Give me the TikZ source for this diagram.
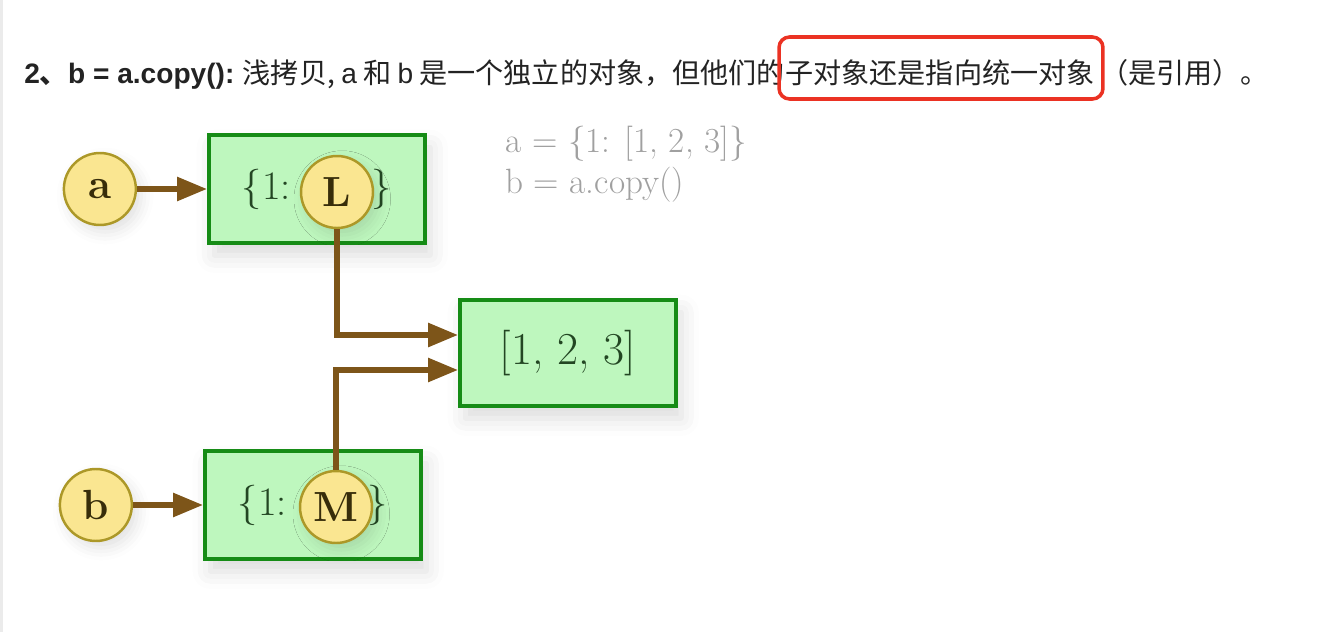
\documentclass[tikz,border=0pt]{standalone}
\usepackage{fontspec}
\newfontfamily\cjk{Noto Sans CJK SC}
\newfontfamily\hd{Liberation Sans}
\usepackage{tikz}
\usetikzlibrary{arrows.meta, positioning, shadows.blur}
\definecolor{boxfill}{RGB}{190,247,190}
\definecolor{boxline}{RGB}{22,140,22}
\definecolor{dotfill}{RGB}{250,230,145}
\definecolor{dotline}{RGB}{172,152,40}
\definecolor{ptrbrown}{RGB}{125,85,25}
\definecolor{boxtext}{RGB}{35,70,35}
\definecolor{dottext}{RGB}{55,45,10}
\definecolor{codegray}{RGB}{160,160,160}
\definecolor{markred}{RGB}{235,50,35}
\definecolor{headtext}{RGB}{35,35,35}

\begin{document}
\begin{tikzpicture}[
    x=0.02cm, y=-0.02cm,
    node distance=1.4cm,
    objbox/.style={rectangle, draw=boxline, fill=boxfill, line width=2.2pt, minimum width=4.32cm, minimum height=2.16cm, inner sep=0pt, text=boxtext, font=\fontsize{23}{28}\selectfont, blur shadow={shadow xshift=3pt, shadow yshift=-7pt, shadow blur radius=10pt, shadow opacity=14}},
    refdot/.style={circle, draw=dotline, fill=dotfill, line width=1.4pt, minimum size=1.44cm, inner sep=0pt, text=dottext, font=\fontsize{24}{28}\selectfont\bfseries, blur shadow={shadow xshift=3pt, shadow yshift=-4pt, shadow blur radius=7pt, shadow opacity=12}},
    ptr/.style={-{Triangle[length=6mm, width=4.6mm]}, line width=3.2pt, draw=ptrbrown},
    codeline/.style={anchor=base west, inner sep=0pt, text=codegray, font=\fontsize{20}{20}\selectfont},
    headline/.style={anchor=base west, inner sep=0pt, text=headtext, font=\cjk\fontsize{16}{20}\selectfont},
]
    \useasboundingbox (0,0) rectangle (1330,632);
    \draw[black!8, line width=2pt] (1,0) -- (1,632);

    % Heading
    \node[headline] (head) at (24,83) {{\bfseries\hd 2}{\bfseries 、}{\bfseries\hd b = a.copy():} 浅拷贝, {\hd a} 和 {\hd b} 是一个独立的对象，但他们的};
    \node[headline] (hl) at (785,83) {子对象还是指向统一对象};
    \node[headline] (tail) at (1100,83) {（是引用）。};
    \node[draw=markred, line width=2pt, rounded corners=6pt, minimum width=6.48cm, minimum height=1.24cm] (mark) at (941,68) {};

    % Code
    \node[codeline] (codeA) at (505,152) {a = \{1: [1, 2, 3]\}};
    \node[codeline] (codeB) at (505,193) {b = a.copy()};

    % Objects
    \node[objbox] (dictA) at (317,189) {\{1:\hspace{1.62cm}\}};
    \node[refdot, left=1.4cm of dictA] (a) {a};
    \node[refdot] (L) at (337,192) {L};

    \node[objbox, minimum height=2.12cm, font=\fontsize{26}{30}\selectfont] (list) at (568,353) {[1, 2, 3]};

    \node[objbox] (dictB) at (313,505) {\{1:\hspace{1.62cm}\}};
    \node[refdot, left=1.4cm of dictB] (b) {b};
    \node[refdot] (M) at (336,507) {M};

    % Pointers
    \coordinate (inA) at ([yshift=0.36cm]list.west);
    \coordinate (inB) at ([yshift=-0.34cm]list.west);
    \draw[ptr] (a) -- (a -| dictA.west);
    \draw[ptr] (b) -- (b -| dictB.west);
    \draw[ptr] (L) |- (inA);
    \draw[ptr] (M) |- (inB);

\end{tikzpicture}
\end{document}
